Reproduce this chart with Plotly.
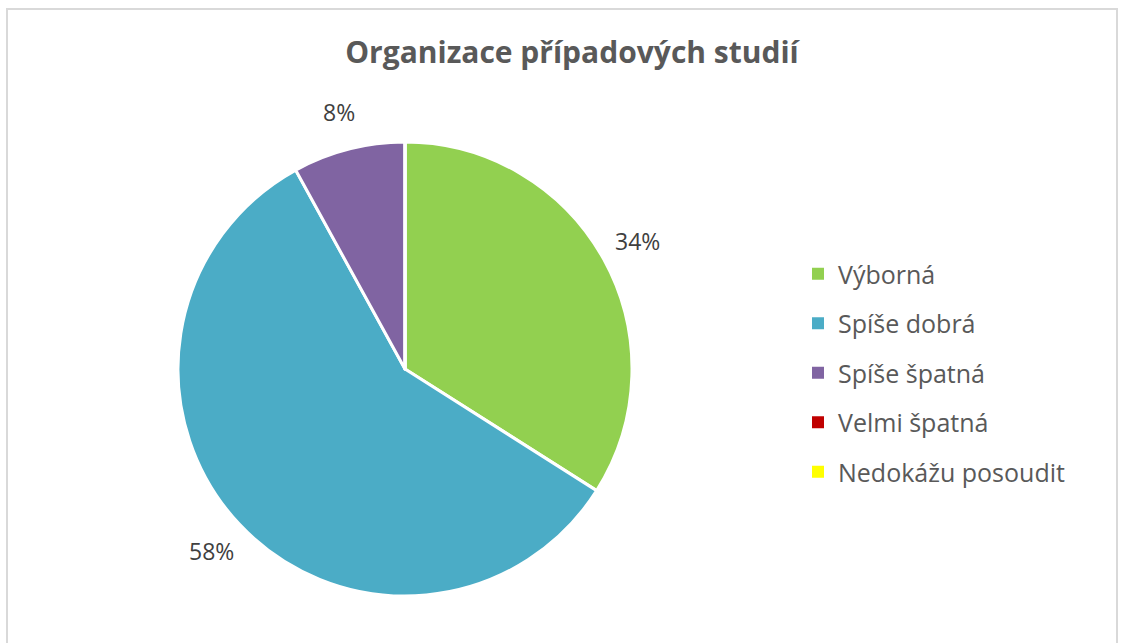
import math
import plotly.graph_objects as go

title = "Organizace případových studií"
categories = ["Výborná", "Spíše dobrá", "Spíše špatná", "Velmi špatná", "Nedokážu posoudit"]
values = [34, 58, 8, 0, 0]
colors = ["#92D050", "#4BACC6", "#8064A2", "#C00000", "#FFFF00"]

W, H = 1122, 643
FONT = "Open Sans"
TXT = "#595959"


def fx(px):
    return px / W


def fy(py):
    return 1 - py / H


# pie geometry in page pixels
cx, cy, r = 405, 369, 227
dom_x = [fx(cx - r), fx(cx + r)]
dom_y = [fy(cy + r), fy(cy - r)]

fig = go.Figure()
fig.add_trace(go.Pie(
    labels=categories, values=values, sort=False, direction="clockwise", rotation=0,
    marker=dict(colors=colors, line=dict(color="white", width=3)),
    textinfo="none", hoverinfo="label+percent", showlegend=False,
    domain=dict(x=dom_x, y=dom_y),
))

# legend entries
for cat, col in zip(categories, colors):
    fig.add_trace(go.Scatter(
        x=[None], y=[None], mode="markers", name=cat, legendgroup=cat,
        marker=dict(symbol="square", size=12, color=col), showlegend=True,
    ))

# percentage labels, computed from values
total = sum(values)
cum = 0
annotations = []
for v in values:
    if v > 0:
        mid = (cum + v / 2) / total * 2 * math.pi
        d = r * 1.17
        px = cx + math.sin(mid) * d
        py = cy - math.cos(mid) * d
        annotations.append(dict(
            x=fx(px), y=fy(py), xref="paper", yref="paper",
            text=f"{round(v / total * 100)}%", showarrow=False,
            font=dict(family=FONT, size=23, color="#404040"),
            xanchor="center", yanchor="middle",
        ))
    cum += v

fig.update_layout(
    width=W, height=H,
    margin=dict(l=0, r=0, t=0, b=0),
    paper_bgcolor="white", plot_bgcolor="white",
    title=dict(text=f"<b>{title}</b>", x=fx(572), xanchor="center", y=fy(52), yanchor="middle",
               font=dict(family=FONT, size=30, color=TXT)),
    xaxis=dict(visible=False), yaxis=dict(visible=False),
    legend=dict(x=fx(798), xanchor="left", y=fy(251), yanchor="top",
                font=dict(family=FONT, size=25, color=TXT),
                tracegroupgap=14, traceorder="grouped", itemclick=False),
    annotations=annotations,
    shapes=[dict(type="rect", xref="paper", yref="paper",
                 x0=fx(7), x1=fx(1117), y0=-0.05, y1=fy(9),
                 line=dict(color="#D9D9D9", width=2), fillcolor="rgba(0,0,0,0)")],
    showlegend=True,
)

fig.write_html("out.html", config={"displayModeBar": False},
               post_script="document.body.style.margin='0';")
